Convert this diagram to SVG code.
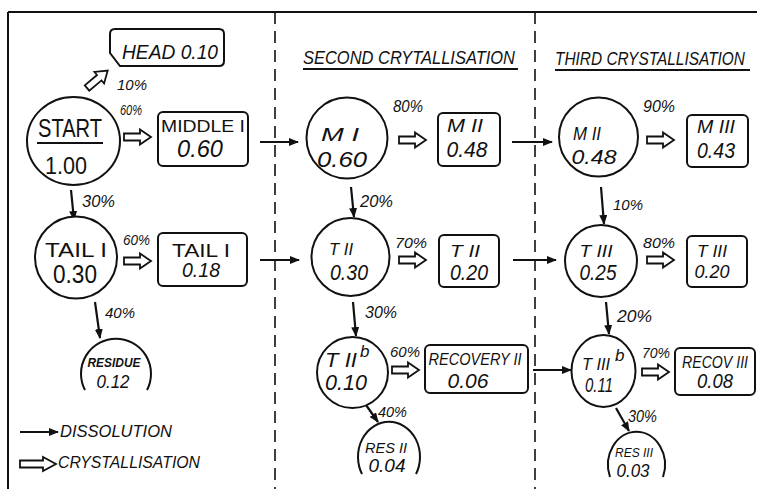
<svg xmlns="http://www.w3.org/2000/svg" width="757" height="489" viewBox="0 0 757 489">
<style>
text{font-family:"Liberation Sans","DejaVu Sans",sans-serif;fill:#111;}
.i{font-style:italic;}
.m{text-anchor:middle;}
.shape{fill:#fff;stroke:#111;stroke-width:2;}
.open{fill:none;stroke:#111;stroke-width:2;}
.line{fill:none;stroke:#111;stroke-width:2;}
.diss{fill:none;stroke:#111;stroke-width:2.2;marker-end:url(#ah);}
.cry{fill:#fff;stroke:#111;stroke-width:1.8;stroke-linejoin:miter;}
.dash{fill:none;stroke:#111;stroke-width:1.6;stroke-dasharray:12 7;}
</style>
<defs>
<marker id="ah" markerUnits="userSpaceOnUse" markerWidth="10" markerHeight="8" refX="9" refY="4" orient="auto">
<path d="M0,0 L10,4 L0,8 Z" fill="#111"/>
</marker>
<path id="ha" d="M0,-3.5 H16 V-7.5 L27,0 L16,7.5 V3.5 H0 Z"/>
</defs>
<rect width="757" height="489" fill="#fff"/>
<g id="frame">
<path class="line" d="M8,12 H757 M8,12 V489"/>
<path class="dash" d="M275,12 V489 M535,12 V489"/>
</g>
<g id="headings">
<text class="i" transform="translate(303,64) scale(1,1.2)" font-size="16" textLength="212" lengthAdjust="spacingAndGlyphs">SECOND CRYTALLISATION</text>
<path class="line" d="M303,69 H518" stroke-width="1.8"/>
<text class="i" transform="translate(555,65) scale(1,1.2)" font-size="15.5" textLength="190" lengthAdjust="spacingAndGlyphs">THIRD CRYSTALLISATION</text>
<path class="line" d="M555,70 H750" stroke-width="1.8"/>
</g>
<g id="connectors">
<path class="diss" d="M71,190 L74,220"/>
<path class="diss" d="M95,302 L100,338"/>
<path class="diss" d="M351,187 L354,217"/>
<path class="diss" d="M353,302 L356,336"/>
<path class="diss" d="M366,405 L378,422"/>
<path class="diss" d="M601,187 L604,224"/>
<path class="diss" d="M606,302 L609,334"/>
<path class="diss" d="M616,408 L629,431"/>
<path class="diss" d="M260,142 L298,142"/>
<path class="diss" d="M260,260 L299,260"/>
<path class="diss" d="M533,370 L571,370"/>
<path class="diss" d="M512,142 L552,142"/>
<path class="diss" d="M513,260 L556,260"/>
<use href="#ha" class="cry" transform="translate(87,88) rotate(-40)"/>
<use href="#ha" class="cry" transform="translate(124,137)"/>
<use href="#ha" class="cry" transform="translate(124,261)"/>
<use href="#ha" class="cry" transform="translate(399,140)"/>
<use href="#ha" class="cry" transform="translate(399,260)"/>
<use href="#ha" class="cry" transform="translate(392,370)"/>
<use href="#ha" class="cry" transform="translate(647,140)"/>
<use href="#ha" class="cry" transform="translate(647,260)"/>
<use href="#ha" class="cry" transform="translate(642,372)"/>
<text class="i" x="117" y="90" font-size="15" textLength="30" lengthAdjust="spacingAndGlyphs">10%</text>
<text class="i" x="120" y="115" font-size="15" textLength="22" lengthAdjust="spacingAndGlyphs">60%</text>
<text class="i" x="82" y="207" font-size="16" textLength="33" lengthAdjust="spacingAndGlyphs">30%</text>
<text class="i" x="123" y="245" font-size="15" textLength="27" lengthAdjust="spacingAndGlyphs">60%</text>
<text class="i" x="105" y="318" font-size="15" textLength="30" lengthAdjust="spacingAndGlyphs">40%</text>
<text class="i" x="393" y="112" font-size="16" textLength="30" lengthAdjust="spacingAndGlyphs">80%</text>
<text class="i" x="360" y="207" font-size="16" textLength="33" lengthAdjust="spacingAndGlyphs">20%</text>
<text class="i" x="395" y="248" font-size="15" textLength="32" lengthAdjust="spacingAndGlyphs">70%</text>
<text class="i" x="365" y="318" font-size="16" textLength="32" lengthAdjust="spacingAndGlyphs">30%</text>
<text class="i" x="390" y="357" font-size="15" textLength="30" lengthAdjust="spacingAndGlyphs">60%</text>
<text class="i" x="378" y="417" font-size="15" textLength="29" lengthAdjust="spacingAndGlyphs">40%</text>
<text class="i" x="643" y="112" font-size="16" textLength="32" lengthAdjust="spacingAndGlyphs">90%</text>
<text class="i" x="613" y="210" font-size="15" textLength="30" lengthAdjust="spacingAndGlyphs">10%</text>
<text class="i" x="643" y="248" font-size="15" textLength="32" lengthAdjust="spacingAndGlyphs">80%</text>
<text class="i" x="617" y="322" font-size="16" textLength="35" lengthAdjust="spacingAndGlyphs">20%</text>
<text class="i" x="642" y="358" font-size="14" textLength="28" lengthAdjust="spacingAndGlyphs">70%</text>
<text class="i" x="628" y="422" font-size="16" textLength="29" lengthAdjust="spacingAndGlyphs">30%</text>
</g>
<g id="head">
<path class="shape" d="M115,29 H219 Q224,29 224,34 V61 Q224,66 219,66 H120 L110,53 V34 Q110,29 115,29 Z"/>
<text class="i m" x="170" y="59" font-size="20" textLength="96" lengthAdjust="spacingAndGlyphs">HEAD 0.10</text>
</g>
<g id="start">
<ellipse class="shape" cx="73.5" cy="141" rx="46.5" ry="44"/>
<text class="m" x="70" y="137" font-size="25" textLength="64" lengthAdjust="spacingAndGlyphs">START</text>
<path class="line" d="M37,143 H103"/>
<text class="m" x="66" y="174" font-size="24" textLength="42" lengthAdjust="spacingAndGlyphs">1.00</text>
</g>
<g id="middle1">
<rect class="shape" x="158" y="112" width="90" height="54" rx="5"/>
<text class="m" x="203" y="132" font-size="17" textLength="84" lengthAdjust="spacingAndGlyphs">MIDDLE I</text>
<text class="i m" x="200" y="157" font-size="23" textLength="46" lengthAdjust="spacingAndGlyphs">0.60</text>
</g>
<g id="tail1">
<circle class="shape" cx="76" cy="257.5" r="41"/>
<text class="m" x="76" y="257" font-size="20" textLength="62" lengthAdjust="spacingAndGlyphs">TAIL I</text>
<text class="m" x="75" y="283" font-size="25" textLength="44" lengthAdjust="spacingAndGlyphs">0.30</text>
</g>
<g id="tail1box">
<rect class="shape" x="158" y="233" width="89" height="53" rx="5"/>
<text class="m" x="201" y="257" font-size="19" textLength="58" lengthAdjust="spacingAndGlyphs">TAIL I</text>
<text class="i m" x="201" y="277" font-size="20" textLength="38" lengthAdjust="spacingAndGlyphs">0.18</text>
</g>
<g id="residue">
<path class="open" d="M85,390 A35,35 0 1 1 147,390"/>
<text class="i m" x="114" y="367" font-size="13" font-weight="bold" textLength="53" lengthAdjust="spacingAndGlyphs">RESIDUE</text>
<text class="i m" x="113" y="388" font-size="18" textLength="33" lengthAdjust="spacingAndGlyphs">0.12</text>
</g>
<g id="legend">
<path class="diss" d="M20,432 L58,432"/>
<text class="i" x="60" y="437" font-size="17" textLength="112" lengthAdjust="spacingAndGlyphs">DISSOLUTION</text>
<path class="cry" d="M20,460.5 H43 V457 L56,464 L43,471 V467.5 H20 Z"/>
<text class="i" x="58" y="468" font-size="17" textLength="142" lengthAdjust="spacingAndGlyphs">CRYSTALLISATION</text>
</g>
<g id="m1">
<circle class="shape" cx="347" cy="138" r="40.5"/>
<text class="i m" x="340" y="141" font-size="19" textLength="38" lengthAdjust="spacingAndGlyphs">M I</text>
<text class="i m" x="342" y="167" font-size="22" textLength="50" lengthAdjust="spacingAndGlyphs">0.60</text>
</g>
<g id="m2box">
<rect class="shape" x="438" y="113" width="62" height="53" rx="5"/>
<text class="i m" x="465" y="132" font-size="18" textLength="36" lengthAdjust="spacingAndGlyphs">M II</text>
<text class="i m" x="467" y="157" font-size="22" textLength="41" lengthAdjust="spacingAndGlyphs">0.48</text>
</g>
<g id="t2">
<circle class="shape" cx="350.5" cy="257" r="39"/>
<text class="i m" x="341" y="255" font-size="17" textLength="24" lengthAdjust="spacingAndGlyphs">T II</text>
<text class="i m" x="349" y="280" font-size="22" textLength="38" lengthAdjust="spacingAndGlyphs">0.30</text>
</g>
<g id="t2box">
<rect class="shape" x="439" y="235" width="60" height="52" rx="5"/>
<text class="i m" x="465" y="257" font-size="17" textLength="30" lengthAdjust="spacingAndGlyphs">T II</text>
<text class="i m" x="469" y="280" font-size="22" textLength="38" lengthAdjust="spacingAndGlyphs">0.20</text>
</g>
<g id="t2b">
<circle class="shape" cx="352.5" cy="372.5" r="35.5"/>
<text class="i m" x="341" y="367" font-size="20" textLength="32" lengthAdjust="spacingAndGlyphs">T II</text>
<text class="i" x="360" y="357" font-size="17">b</text>
<text class="i m" x="346" y="390" font-size="22" textLength="42" lengthAdjust="spacingAndGlyphs">0.10</text>
</g>
<g id="recovery2">
<rect class="shape" x="425" y="345" width="103" height="48" rx="5"/>
<text class="i m" x="475" y="365" font-size="17" textLength="93" lengthAdjust="spacingAndGlyphs">RECOVERY II</text>
<text class="i m" x="468" y="388" font-size="21" textLength="41" lengthAdjust="spacingAndGlyphs">0.06</text>
</g>
<g id="res2">
<path class="open" d="M362,474 A31,35 0 1 1 416,474"/>
<text class="i m" x="386" y="453" font-size="15" textLength="42" lengthAdjust="spacingAndGlyphs">RES II</text>
<text class="i m" x="387" y="472" font-size="19" textLength="37" lengthAdjust="spacingAndGlyphs">0.04</text>
</g>
<g id="m2">
<circle class="shape" cx="598.5" cy="137" r="39.5"/>
<text class="i m" x="587" y="140" font-size="18" textLength="28" lengthAdjust="spacingAndGlyphs">M II</text>
<text class="i m" x="594" y="164" font-size="21" textLength="45" lengthAdjust="spacingAndGlyphs">0.48</text>
</g>
<g id="m3box">
<rect class="shape" x="687" y="115" width="61" height="52" rx="5"/>
<text class="i m" x="716" y="133" font-size="18" textLength="38" lengthAdjust="spacingAndGlyphs">M III</text>
<text class="i m" x="716" y="158" font-size="22" textLength="38" lengthAdjust="spacingAndGlyphs">0.43</text>
</g>
<g id="t3">
<circle class="shape" cx="601" cy="261" r="36"/>
<text class="i m" x="596" y="257" font-size="17" textLength="33" lengthAdjust="spacingAndGlyphs">T III</text>
<text class="i m" x="598" y="280" font-size="22" textLength="37" lengthAdjust="spacingAndGlyphs">0.25</text>
</g>
<g id="t3box">
<rect class="shape" x="687" y="236" width="60" height="51" rx="5"/>
<text class="i m" x="712" y="257" font-size="17" textLength="30" lengthAdjust="spacingAndGlyphs">T III</text>
<text class="i m" x="712" y="278" font-size="19" textLength="35" lengthAdjust="spacingAndGlyphs">0.20</text>
</g>
<g id="t3b">
<ellipse class="shape" cx="603.5" cy="371" rx="32" ry="36"/>
<text class="i m" x="596" y="370" font-size="17" textLength="28" lengthAdjust="spacingAndGlyphs">T III</text>
<text class="i" x="615" y="361" font-size="17">b</text>
<text class="i m" x="599" y="392" font-size="20" textLength="28" lengthAdjust="spacingAndGlyphs">0.11</text>
</g>
<g id="recov3">
<rect class="shape" x="675" y="348" width="80" height="47" rx="5"/>
<text class="i m" x="715" y="368" font-size="16" textLength="66" lengthAdjust="spacingAndGlyphs">RECOV III</text>
<text class="i m" x="715" y="388" font-size="20" textLength="36" lengthAdjust="spacingAndGlyphs">0.08</text>
</g>
<g id="res3">
<path class="open" d="M610,477 A28.5,33 0 1 1 663,477"/>
<text class="i m" x="634" y="457" font-size="13" textLength="38" lengthAdjust="spacingAndGlyphs">RES III</text>
<text class="i m" x="633" y="477" font-size="19" textLength="33" lengthAdjust="spacingAndGlyphs">0.03</text>
</g>
</svg>
